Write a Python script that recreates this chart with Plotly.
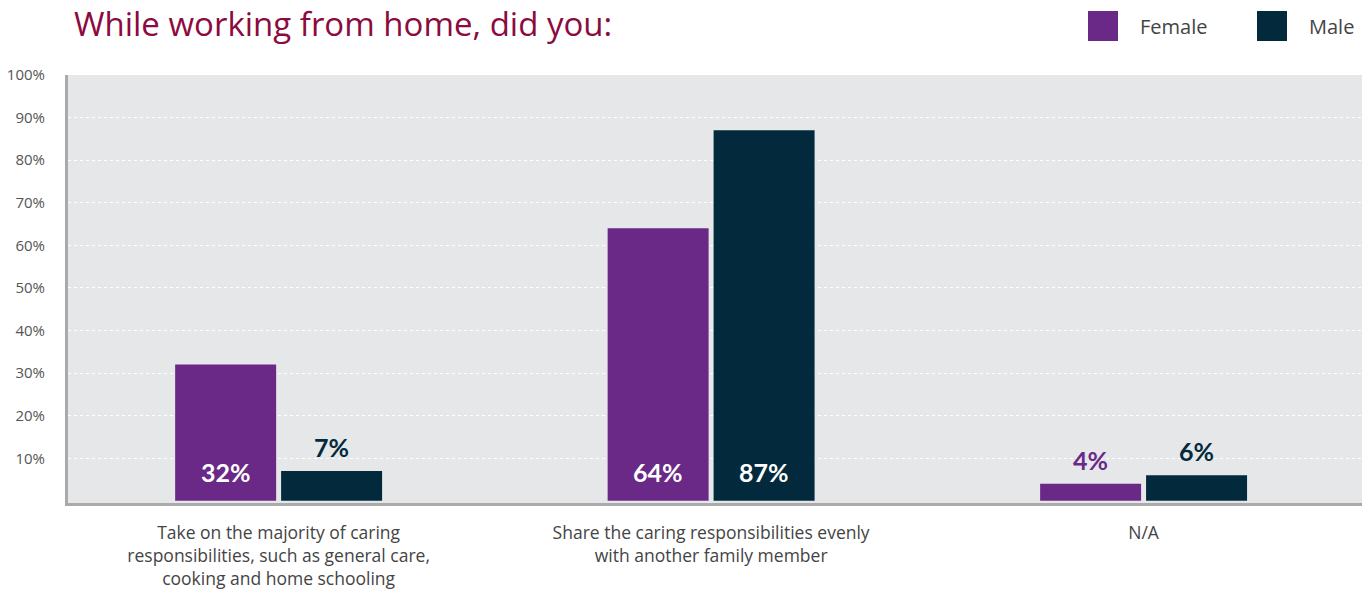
import plotly.graph_objects as go

categories = [
    "Take on the majority of caring<br>responsibilities, such as general care,<br>cooking and home schooling",
    "Share the caring responsibilities evenly<br>with another family member",
    "N/A",
]
female = [32, 64, 4]
male = [7, 87, 6]
series_names = ["Female", "Male"]
y_ticks = [10, 20, 30, 40, 50, 60, 70, 80, 90, 100]
y_tick_labels = [f"{v}%" for v in y_ticks]

PURPLE = "#6a2887"
NAVY = "#022a3c"
FONT = "Lato, 'Open Sans', sans-serif"
FONT2 = "'Open Sans', Lato, sans-serif"

L, R, T, B = 68, 8, 75, 89
W, H = 1370 - L - R, 592 - T - B
def px_x(x): return (x - L) / W
def px_y(y): return (592 - B - y) / H

fig = go.Figure()
annotations = []
for name, vals, col, shift in [(series_names[0], female, PURPLE, -53), (series_names[1], male, NAVY, 53)]:
    fig.add_trace(go.Bar(
        x=categories, y=vals, name=name,
        marker=dict(color=col, line=dict(width=0)),
        showlegend=False,
    ))
    for cat, v in zip(categories, vals):
        inside = v >= 20
        annotations.append(dict(
            xref="x", yref="y", x=cat, y=0 if inside else v,
            xshift=shift, yshift=29 if inside else 24,
            xanchor="center", yanchor="middle", showarrow=False,
            text=f"{v}%",
            font=dict(family=FONT, size=25, color="white" if inside else col, weight="bold"),
        ))

shapes = []
for name, col, x0, tx in [(series_names[0], PURPLE, 1088, 1138), (series_names[1], NAVY, 1257, 1307)]:
    shapes.append(dict(type="rect", xref="paper", yref="paper",
                       x0=px_x(x0), x1=px_x(x0 + 30), y0=px_y(41), y1=px_y(11),
                       fillcolor=col, line=dict(width=0)))
    annotations.append(dict(xref="paper", yref="paper", x=px_x(tx), y=px_y(27),
                            xanchor="left", yanchor="middle", showarrow=False,
                            text=name, font=dict(family=FONT2, size=20, color="#444444")))

fig.update_layout(
    width=1370, height=592,
    margin=dict(l=L, r=R, t=T, b=B, autoexpand=False),
    paper_bgcolor="white",
    plot_bgcolor="#e6e7e9",
    barmode="group",
    bargap=0.51,
    bargroupgap=0.047,
    title=dict(text="While working from home, did you:", x=74 / 1370, xref="container",
               xanchor="left", y=1 - 24 / 592, yanchor="middle",
               font=dict(family=FONT2, size=33, color="#8b0b3f")),
    shapes=shapes,
    annotations=annotations,
)
fig.update_xaxes(
    automargin=False,
    range=[-0.487, 2.505],
    showline=True, linecolor="#aaaaaa", linewidth=3,
    ticks="", ticklabelstandoff=12,
    tickfont=dict(family=FONT2, size=17.5, color="#444444"),
    showgrid=False,
)
fig.update_yaxes(
    automargin=False,
    range=[-0.5, 100],
    tickvals=y_ticks, ticktext=y_tick_labels,
    showline=True, linecolor="#aaaaaa", linewidth=3,
    ticks="", ticklabelstandoff=17,
    tickfont=dict(family=FONT2, size=15, color="#555555"),
    showgrid=True, gridcolor="white", gridwidth=1, griddash="dot",
    zeroline=False,
)

fig.write_html("out.html", config={"displayModeBar": False},
               post_script="document.body.style.margin='0';document.body.style.overflow='hidden';")
